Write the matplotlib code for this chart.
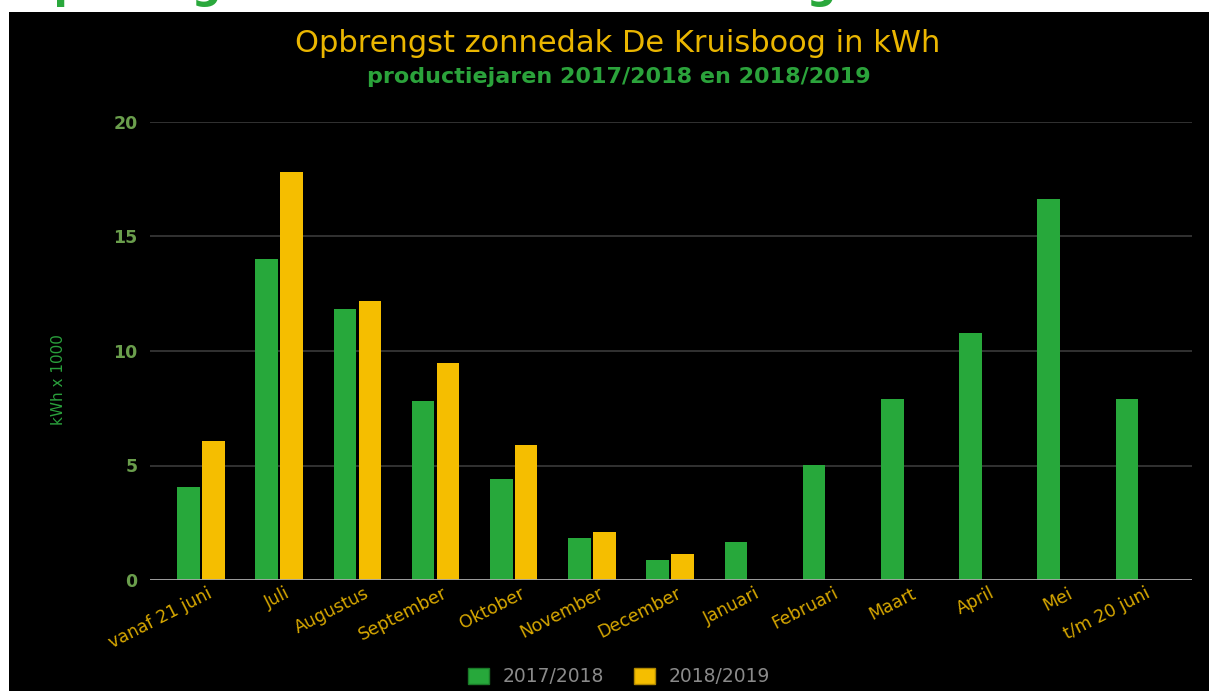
import numpy as np
import matplotlib
matplotlib.use('Agg')
import matplotlib.pyplot as plt
import matplotlib.transforms as mtransforms
from matplotlib.patches import Rectangle, Patch

# maanden (productiejaar loopt van 21 juni t/m 20 juni)
maanden = ['vanaf 21 juni', 'Juli', 'Augustus', 'September', 'Oktober', 'November',
           'December', 'Januari', 'Februari', 'Maart', 'April', 'Mei', 't/m 20 juni']
# opbrengst in kWh x 1000
jaar_1718 = [4.07, 14.03, 11.85, 7.82, 4.39, 1.82, 0.89, 1.64, 5.02, 7.90, 10.78, 16.65, 7.90]
jaar_1819 = [6.08, 17.80, 12.17, 9.47, 5.89, 2.08, 1.13, None, None, None, None, None, None]
series = ['2017/2018', '2018/2019']

groen = '#27a83b'
geel = '#f5be00'

W, H = 1209, 691
fig = plt.figure(figsize=(W / 100, H / 100), dpi=100, facecolor='white')

# zwarte achtergrond van de grafiek
fig.patches.append(Rectangle((9 / W, 0), 1 - 9 / W, (H - 12) / H, transform=fig.transFigure,
                             facecolor='black', edgecolor='none', zorder=-10))
# afgesneden kop van de pagina erboven
fig.text(18 / W, 1 + 2 / H, 'Opbrengst zonnedak De Kruisboog', color='#2aa83c',
         fontsize=30, fontweight='bold', ha='left', va='baseline')

ax = fig.add_axes([150 / W, (H - 580) / H, 1042 / W, 458 / H])
ax.set_facecolor('black')

x = np.arange(len(maanden))
bw = 0.288
off = 0.159
ax.bar(x - off, jaar_1718, width=bw, color=groen, zorder=3)
x2 = [i for i, v in enumerate(jaar_1819) if v is not None]
v2 = [v for v in jaar_1819 if v is not None]
ax.bar(np.array(x2) + off, v2, width=bw, color=geel, zorder=3)

ax.set_xlim(-0.652, 12.673)
ax.set_ylim(0, 20)
ax.set_yticks([0, 5, 10, 15, 20])
ax.yaxis.grid(True, color='#3a3a3a', linewidth=1.2, zorder=0)
ax.set_axisbelow(True)
ax.axhline(0, color='#a8a8a8', linewidth=2, zorder=4)
for s in ax.spines.values():
    s.set_visible(False)
ax.tick_params(axis='y', length=0, pad=9, labelsize=12.5, labelcolor='#6a9e4c')
for lab in ax.get_yticklabels():
    lab.set_fontweight('bold')
ax.tick_params(axis='x', length=0, pad=3)
ax.set_xticks(x)
ax.set_xticklabels(maanden, rotation=27, ha='right', va='top', rotation_mode='anchor',
                   color='#d8a800', fontsize=12.5)
shift = mtransforms.ScaledTranslation(6 / 100, 0, fig.dpi_scale_trans)
for lab in ax.get_xticklabels():
    lab.set_transform(lab.get_transform() + shift)

ax.set_ylabel('kWh x 1000', color='#2aa03c', fontsize=11)
ax.yaxis.set_label_coords(-0.081, 0.437)

fig.text(618 / W, 1 - 43 / H, 'Opbrengst zonnedak De Kruisboog in kWh', color='#eab600',
         fontsize=22, ha='center', va='center')
fig.text(619 / W, 1 - 77 / H, 'productiejaren 2017/2018 en 2018/2019', color='#2ba33b',
         fontsize=16, fontweight='bold', ha='center', va='center')

handles = [Patch(facecolor=groen, edgecolor='#1a7a28'), Patch(facecolor=geel, edgecolor='#b08800')]
leg = fig.legend(handles, series, loc='center', bbox_to_anchor=(619 / W, 1 - 677 / H), ncol=2,
                 frameon=False, fontsize=13.5, labelcolor='#8a8a8a', handlelength=1.1,
                 handleheight=0.9, handletextpad=0.75, columnspacing=1.6)

fig.savefig('out.png', dpi=100, facecolor=fig.get_facecolor())
